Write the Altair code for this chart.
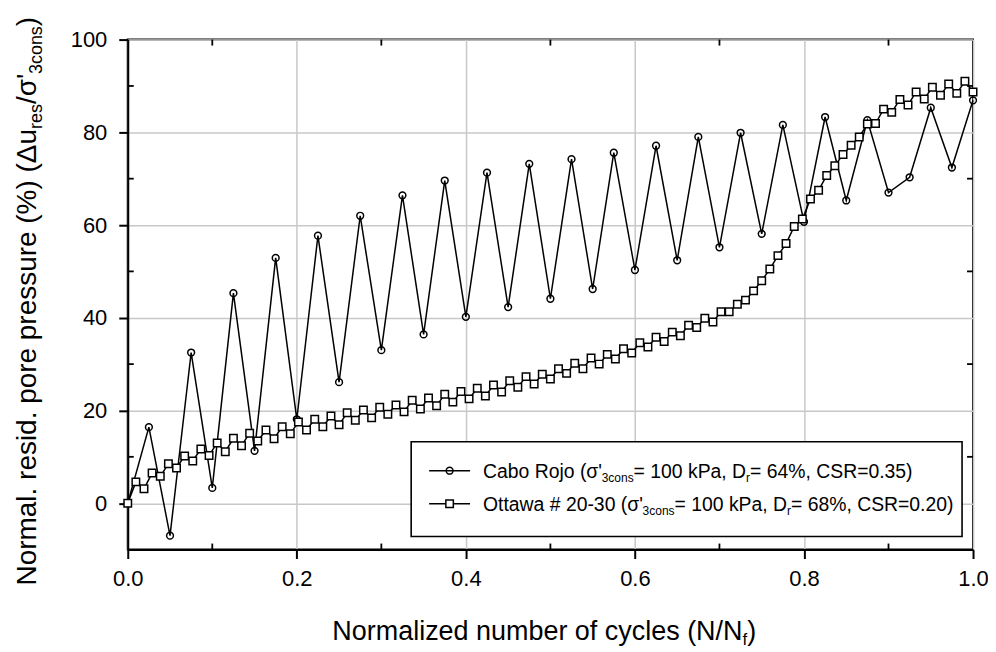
import altair as alt
import pandas as pd

FONT = "Liberation Sans"

# ---------------- data ----------------
cabo_x = [0.0, 0.025, 0.05, 0.075, 0.1, 0.125, 0.15, 0.175, 0.2, 0.225,
          0.25, 0.275, 0.3, 0.325, 0.35, 0.375, 0.4, 0.425, 0.45, 0.475,
          0.5, 0.525, 0.55, 0.575, 0.6, 0.625, 0.65, 0.675, 0.7, 0.725,
          0.75, 0.775, 0.8, 0.825, 0.85, 0.875, 0.9, 0.925, 0.95, 0.975, 1.0]
cabo_y = [0.0, 16.4, -7.0, 32.5, 3.3, 45.3, 11.3, 52.9, 18.1, 57.7,
          26.1, 62.0, 33.0, 66.4, 36.4, 69.6, 40.2, 71.3, 42.3, 73.2,
          44.1, 74.2, 46.2, 75.6, 50.3, 77.1, 52.4, 79.0, 55.2, 79.9,
          58.1, 81.6, 60.7, 83.3, 65.3, 82.6, 67.0, 70.3, 85.3, 72.4, 86.9]

ottawa_x = [0.0, 0.0096, 0.0192, 0.0288, 0.0385, 0.0481, 0.0577, 0.0673, 0.0769, 0.0865,
            0.0962, 0.1058, 0.1154, 0.125, 0.1346, 0.1442, 0.1538, 0.1635, 0.1731, 0.1827,
            0.1923, 0.2019, 0.2115, 0.2212, 0.2308, 0.2404, 0.25, 0.2596, 0.2692, 0.2788,
            0.2885, 0.2981, 0.3077, 0.3173, 0.3269, 0.3365, 0.3462, 0.3558, 0.3654, 0.375,
            0.3846, 0.3942, 0.4038, 0.4135, 0.4231, 0.4327, 0.4423, 0.4519, 0.4615, 0.4712,
            0.4808, 0.4904, 0.5, 0.5096, 0.5192, 0.5288, 0.5385, 0.5481, 0.5577, 0.5673,
            0.5769, 0.5865, 0.5962, 0.6058, 0.6154, 0.625, 0.6346, 0.6442, 0.6538, 0.6635,
            0.6731, 0.6827, 0.6923, 0.7019, 0.7115, 0.7212, 0.7308, 0.7404, 0.75, 0.7596,
            0.7692, 0.7788, 0.7885, 0.7981, 0.8077, 0.8173, 0.8269, 0.8365, 0.8462, 0.8558,
            0.8654, 0.875, 0.8846, 0.8942, 0.9038, 0.9135, 0.9231, 0.9327, 0.9423, 0.9519,
            0.9615, 0.9712, 0.9808, 0.9904, 1.0]
ottawa_y = [0.0, 4.6, 3.1, 6.5, 5.8, 8.5, 7.6, 10.2, 9.1, 11.7,
            10.3, 13.0, 11.1, 14.0, 12.4, 15.1, 13.4, 15.8, 13.9, 16.5,
            15.0, 17.5, 15.8, 18.1, 16.5, 18.8, 16.9, 19.5, 17.9, 20.1,
            18.4, 20.7, 19.2, 21.2, 19.7, 22.2, 20.3, 22.7, 21.0, 23.5,
            21.8, 24.1, 22.5, 24.8, 23.1, 25.5, 24.0, 26.4, 25.0, 27.3,
            25.7, 27.8, 26.8, 29.0, 28.0, 30.2, 29.0, 31.3, 30.0, 32.1,
            31.1, 33.3, 32.4, 34.6, 33.7, 35.8, 34.9, 36.9, 36.1, 38.4,
            37.9, 39.9, 39.1, 41.3, 41.3, 42.9, 43.8, 45.8, 48.0, 50.5,
            53.4, 56.0, 59.7, 61.3, 65.6, 67.5, 70.7, 72.8, 75.2, 77.2,
            79.0, 81.8, 81.9, 85.0, 84.3, 87.1, 85.9, 88.7, 87.2, 89.7,
            88.0, 90.4, 88.4, 91.0, 88.7]

x_major = [0.0, 0.2, 0.4, 0.6, 0.8, 1.0]
y_major = [0, 20, 40, 60, 80, 100]
x_minor = [0.1, 0.3, 0.5, 0.7, 0.9]
y_minor = [10, 30, 50, 70, 90]

legend_rows = [
    ("Cabo Rojo (σ'", "= 64%, CSR=0.35)", "circle"),
    ("Ottawa # 20-30 (σ'", "= 68%, CSR=0.20)", "square"),
]

cabo = pd.DataFrame({"x": cabo_x, "y": cabo_y})
ottawa = pd.DataFrame({"x": ottawa_x, "y": ottawa_y})

# ---------------- layout ----------------
W, H = 847, 511
GRID = "#c8c8c8"

xs = alt.Scale(domain=[0, 1], nice=False, zero=False)
ys = alt.Scale(domain=[-10, 100], nice=False, zero=False)
xaxis = alt.Axis(values=x_major, format=".1f", title=None, tickSize=9, tickWidth=2,
                 tickColor="black", domainColor="black", domainWidth=2,
                 labelFontSize=22, labelFont=FONT, labelColor="black", labelPadding=10,
                 labelFlush=False, grid=True, gridColor=GRID, gridWidth=1.5)
yaxis = alt.Axis(values=y_major, format="d", title=None, tickSize=9, tickWidth=2,
                 tickColor="black", domainColor="black", domainWidth=2,
                 labelFontSize=22, labelFont=FONT, labelColor="black", labelPadding=12,
                 grid=True, gridColor=GRID, gridWidth=1.5)
X = alt.X("x:Q", scale=xs, axis=xaxis)
Y = alt.Y("y:Q", scale=ys, axis=yaxis)

# Arial / Liberation Sans advance widths (per 1000 em)
ADV = {' ': 278, '#': 556, '%': 889, "'": 191, '(': 333, ')': 333, ',': 278, '-': 333,
       '.': 278, '/': 278, '=': 584, 'σ': 602, 'Δ': 668}
for ch in "0123456789":
    ADV[ch] = 556
ADV.update(dict(zip("ABCDEFGHIJKLMNOPQRSTUVWXYZ",
                    [667, 667, 722, 722, 667, 611, 778, 722, 278, 500, 667, 556, 833,
                     722, 778, 667, 778, 722, 667, 611, 722, 667, 944, 667, 667, 611])))
ADV.update(dict(zip("abcdefghijklmnopqrstuvwxyz",
                    [556, 556, 500, 556, 556, 278, 556, 556, 222, 222, 500, 222, 833,
                     556, 556, 556, 556, 333, 500, 278, 556, 500, 722, 500, 500, 500])))


def twidth(s, fs):
    return sum(ADV.get(c, 556) for c in s) * fs / 1000.0


one = pd.DataFrame({"k": [0]})


def text_run(segments, x0, y0, angle=0):
    out = []
    pos = 0.0
    for txt, fs, sub in segments:
        if angle == 0:
            px, py = x0 + pos, y0 + sub
        else:
            px, py = x0 + sub, y0 - pos
        out.append(
            alt.Chart(one).mark_text(align="left", baseline="alphabetic", fontSize=fs,
                                     font=FONT, angle=angle, color="black")
            .encode(x=alt.value(px), y=alt.value(py), text=alt.value(txt))
        )
        pos += twidth(txt, fs)
    return out


layers = []

# minor ticks (inward) on all four sides
mx = pd.DataFrame({"x": x_minor})
my = pd.DataFrame({"y": y_minor})
tick = dict(color="black", strokeWidth=1.8)
layers.append(alt.Chart(mx).mark_rule(**tick).encode(x=X, y=alt.value(H), y2=alt.value(H - 6)))
layers.append(alt.Chart(mx).mark_rule(**tick).encode(x=X, y=alt.value(0), y2=alt.value(6)))
layers.append(alt.Chart(my).mark_rule(**tick).encode(y=Y, x=alt.value(0), x2=alt.value(6)))
layers.append(alt.Chart(my).mark_rule(**tick).encode(y=Y, x=alt.value(W), x2=alt.value(W - 6)))

# data series
layers.append(alt.Chart(cabo).mark_line(color="black", strokeWidth=1.5).encode(x=X, y=Y))
layers.append(alt.Chart(cabo).mark_point(shape="circle", size=46, filled=False, color="black",
                                         strokeWidth=1.5, opacity=1).encode(x=X, y=Y))
layers.append(alt.Chart(ottawa).mark_line(color="black", strokeWidth=1.5).encode(x=X, y=Y))
layers.append(alt.Chart(ottawa).mark_point(shape="square", size=56, filled=False, fill="white",
                                           fillOpacity=1, color="black", strokeWidth=1.5,
                                           opacity=1).encode(x=X, y=Y))

# legend box
LX0, LX1, LY0, LY1 = 284, 836, 403, 498
layers.append(alt.Chart(one).mark_rect(fill="white", stroke="black", strokeWidth=1.6)
              .encode(x=alt.value(LX0), x2=alt.value(LX1), y=alt.value(LY0), y2=alt.value(LY1)))
LF, LS, LSUB = 19.4, 12, 4
row_y = [432, 465]
for (pre, post, shape), ry in zip(legend_rows, row_y):
    layers.append(alt.Chart(one).mark_rule(color="black", strokeWidth=1.5)
                  .encode(x=alt.value(302), x2=alt.value(343), y=alt.value(ry)))
    if shape == "circle":
        layers.append(alt.Chart(one).mark_point(shape="circle", size=46, filled=False,
                                                color="black", strokeWidth=1.5, opacity=1)
                      .encode(x=alt.value(322.5), y=alt.value(ry)))
    else:
        layers.append(alt.Chart(one).mark_point(shape="square", size=56, filled=False,
                                                fill="white", fillOpacity=1, color="black",
                                                strokeWidth=1.5, opacity=1)
                      .encode(x=alt.value(322.5), y=alt.value(ry)))
    layers += text_run([(pre, LF, 0), ("3cons", LS, LSUB), ("= 100 kPa, D", LF, 0),
                        ("r", LS, LSUB), (post, LF, 0)], 356, ry + 7)

# axis titles
layers += text_run([("Normalized number of cycles (N/N", 27, 0), ("f", 17, 5), (")", 27, 0)],
                   205, 602)
layers += text_run([("Normal. resid. pore pressure (%) (Δu", 28, 0), ("res", 18, 6),
                    ("/σ'", 28, 0), ("3cons", 18, 6), (")", 28, 0)],
                   -92, 547, angle=270)

chart = (
    alt.layer(*layers)
    .properties(width=W, height=H, autosize="none",
                padding={"left": 120, "top": 31, "right": 15, "bottom": 100})
    .configure_view(stroke="black", strokeWidth=2)
)

chart.save("out.html", embed_options={"renderer": "svg", "actions": False})
